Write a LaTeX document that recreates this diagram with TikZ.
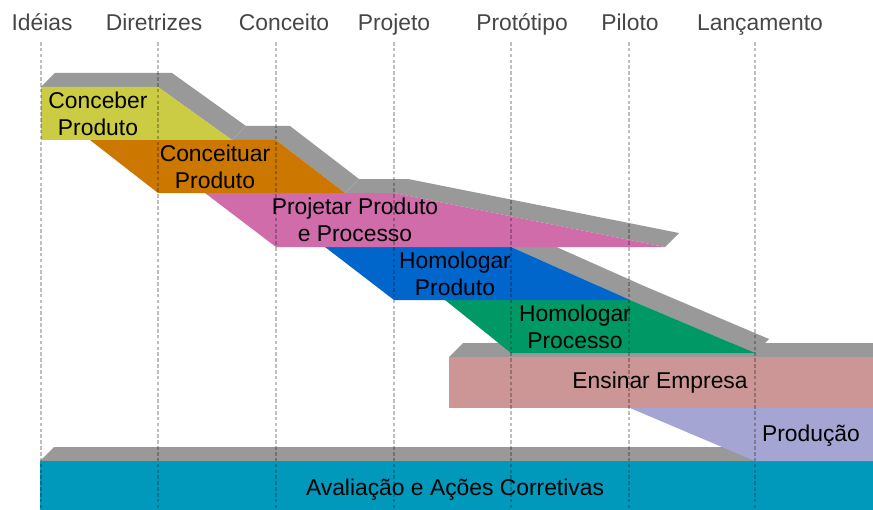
\documentclass[tikz,border=0pt]{standalone}
\usepackage{fontspec}
\setmainfont{Liberation Sans}
\usepackage{tikz}
\usetikzlibrary{positioning}

\definecolor{amarelo}{RGB}{204,204,68}
\definecolor{laranja}{RGB}{204,119,0}
\definecolor{rosado}{RGB}{208,108,170}
\definecolor{azul}{RGB}{0,102,204}
\definecolor{verde}{RGB}{0,153,102}
\definecolor{salmao}{RGB}{204,150,150}
\definecolor{lilas}{RGB}{165,165,212}
\definecolor{turquesa}{RGB}{0,153,187}
\definecolor{cinza}{RGB}{153,153,153}
\definecolor{cinzatexto}{RGB}{70,70,70}

\begin{document}
\begin{tikzpicture}[x=0.03cm,y=-0.03cm,
	topo/.style={fill=cinza},
	rotulo/.style={align=center,text=black,font=\fontsize{19.5}{23}\selectfont},
	fase/.style={anchor=base,text=cinzatexto,font=\fontsize{19.5}{23}\selectfont},
	guia/.style={black,opacity=0.25,line width=1.2pt,dash pattern=on 3pt off 2pt}]
	
	\useasboundingbox (0,0) rectangle (873,510);
	
	\begin{scope}
		\clip (0,0) rectangle (873,510);
		% Avaliacao
		\fill[topo] (40,461) -- (873,461) -- (887,447) -- (54,447) -- cycle;
		\fill[turquesa] (40,461) rectangle (873,510);
		% Producao
		\fill[lilas] (630,408) -- (873,408) -- (873,461) -- (755,461) -- cycle;
		% Ensinar
		\fill[topo] (449,357) -- (873,357) -- (887,343) -- (463,343) -- cycle;
		\fill[salmao] (449,357) rectangle (873,408);
		% Homologar processo
		\fill[topo] (445,300) -- (630,300) -- (755,353) -- (769,339) -- (644,286) -- (459,286) -- cycle;
		\fill[verde] (445,300) -- (630,300) -- (755,353) -- (511,353) -- cycle;
		% Homologar produto
		\fill[topo] (325,247) -- (511,247) -- (630,300) -- (644,286) -- (525,233) -- (339,233) -- cycle;
		\fill[azul] (325,247) -- (511,247) -- (630,300) -- (394,300) -- cycle;
		% Projetar
		\fill[topo] (345,193) -- (394,193) -- (665,247) -- (679,233) -- (408,179) -- (359,179) -- cycle;
		\fill[rosado] (205,193) -- (394,193) -- (665,247) -- (276,247) -- cycle;
		% Conceituar
		\fill[topo] (232,140) -- (276,140) -- (345,193) -- (359,179) -- (290,126) -- (246,126) -- cycle;
		\fill[laranja] (90,140) -- (276,140) -- (345,193) -- (158,193) -- cycle;
		% Conceber
		\fill[topo] (41,87) -- (158,87) -- (232,140) -- (246,126) -- (172,73) -- (55,73) -- cycle;
		\fill[amarelo] (41,87) -- (158,87) -- (232,140) -- (41,140) -- cycle;
	\end{scope}
	
	\foreach \x in {41,158,276,394,511,629,755}
		\draw[guia] (\x,42) -- (\x,510);
	
	\node[fase] (ideias) at (42,31) {Idéias};
	\node[fase] (diretrizes) at (154,31) {Diretrizes};
	\node[fase] (conceito) at (284,31) {Conceito};
	\node[fase] (projeto) at (394,31) {Projeto};
	\node[fase] (prototipo) at (522,31) {Protótipo};
	\node[fase] (piloto) at (630,31) {Piloto};
	\node[fase] (lancamento) at (760,31) {Lançamento};
	
	\node[rotulo] (conceber) at (98,114) {Conceber\\Produto};
	\node[rotulo] (conceituar) at (215,167) {Conceituar\\Produto};
	\node[rotulo] (projetar) at (355,220) {Projetar Produto\\e Processo};
	\node[rotulo] (homprod) at (455,274) {Homologar\\Produto};
	\node[rotulo] (homproc) at (575,327) {Homologar\\Processo};
	\node[rotulo] (ensinar) at (660,383) {Ensinar Empresa};
	\node[rotulo] (producao) at (811,436) {Produção};
	\node[rotulo] (avaliacao) at (455,490) {Avaliação e Ações Corretivas};
	
\end{tikzpicture}
\end{document}
